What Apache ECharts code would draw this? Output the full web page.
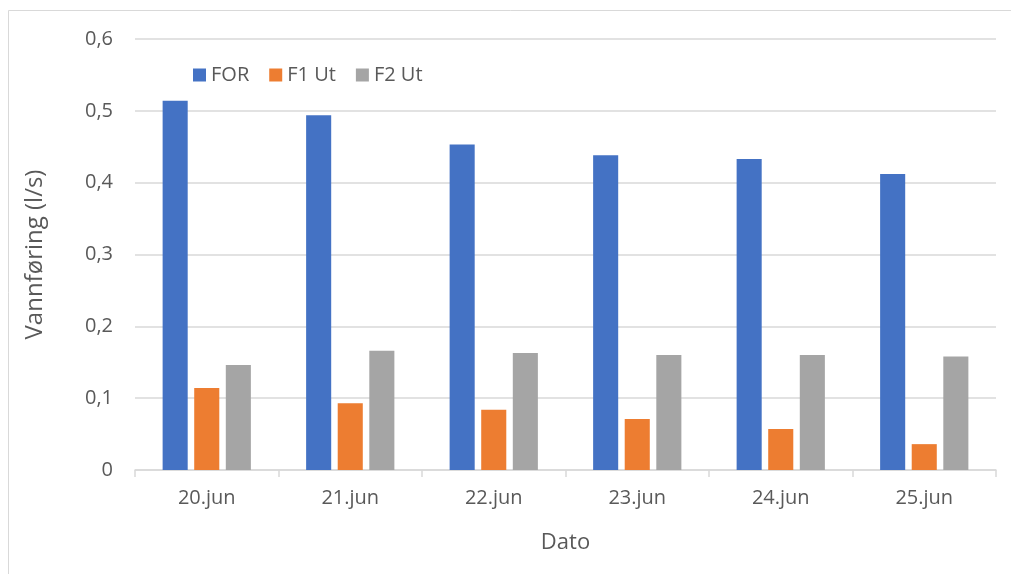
<!DOCTYPE html>
<html>
<head>
<meta charset="utf-8">
<title>Vannføring</title>
<script src="https://cdn.jsdelivr.net/npm/echarts@6/dist/echarts.min.js"></script>
<style>
  html, body { margin: 0; padding: 0; background: #ffffff; }
  #chart { width: 1011px; height: 574px; }
</style>
</head>
<body>
<div id="chart"></div>
<script>
// Daily flow (l/s) per measuring point
const dates = ['20.jun', '21.jun', '22.jun', '23.jun', '24.jun', '25.jun'];
const forValues = [0.514, 0.494, 0.453, 0.438, 0.433, 0.412];
const f1UtValues = [0.114, 0.093, 0.084, 0.071, 0.057, 0.036];
const f2UtValues = [0.146, 0.166, 0.163, 0.160, 0.160, 0.158];
const seriesNames = ['FOR', 'F1 Ut', 'F2 Ut'];
const seriesColors = ['#4472C4', '#ED7D31', '#A5A5A5'];

const FONT = '"Open Sans", "Noto Sans", sans-serif';
const TEXT = '#595959';
const LINE = '#d9d9d9';

const chart = echarts.init(document.getElementById('chart'), null, { renderer: 'canvas' });

const valueSets = [forValues, f1UtValues, f2UtValues];

chart.setOption({
  backgroundColor: '#ffffff',
  animation: false,
  textStyle: { fontFamily: FONT },
  graphic: [{
    type: 'rect',
    shape: { x: 8.5, y: 10.5, width: 1100, height: 700 },
    style: { fill: 'none', stroke: LINE, lineWidth: 1 },
    silent: true
  }],
  legend: {
    left: 188,
    top: 60,
    itemWidth: 13,
    itemHeight: 13,
    itemGap: 20,
    icon: 'rect',
    textStyle: { color: TEXT, fontSize: 20, fontFamily: FONT },
    data: seriesNames
  },
  grid: { left: 135, right: 15, top: 39, bottom: 104 },
  xAxis: {
    type: 'category',
    data: dates,
    name: 'Dato',
    nameLocation: 'middle',
    nameGap: 62,
    nameTextStyle: { color: TEXT, fontSize: 22, fontFamily: FONT },
    axisLine: { show: true, lineStyle: { color: LINE, width: 1.5 } },
    axisTick: { show: true, length: 7, lineStyle: { color: LINE, width: 1.5 } },
    axisLabel: { color: TEXT, fontSize: 20, margin: 18, fontFamily: FONT },
    splitLine: { show: false }
  },
  yAxis: {
    type: 'value',
    min: 0,
    max: 0.6,
    interval: 0.1,
    name: 'Vannføring (l/s)',
    nameLocation: 'middle',
    nameGap: 88,
    nameRotate: 90,
    nameTextStyle: { color: TEXT, fontSize: 24, fontFamily: FONT },
    axisLine: { show: false },
    axisTick: { show: false },
    axisLabel: {
      color: TEXT, fontSize: 20, margin: 22, fontFamily: FONT,
      formatter: v => (Math.round(v * 10) / 10).toString().replace('.', ',')
    },
    splitLine: { lineStyle: { color: LINE, width: 1.5 } }
  },
  series: seriesNames.map((name, i) => ({
    name,
    type: 'bar',
    data: valueSets[i],
    itemStyle: { color: seriesColors[i] },
    barGap: '26%',
    barCategoryGap: '38.5%'
  }))
});
</script>
</body>
</html>
